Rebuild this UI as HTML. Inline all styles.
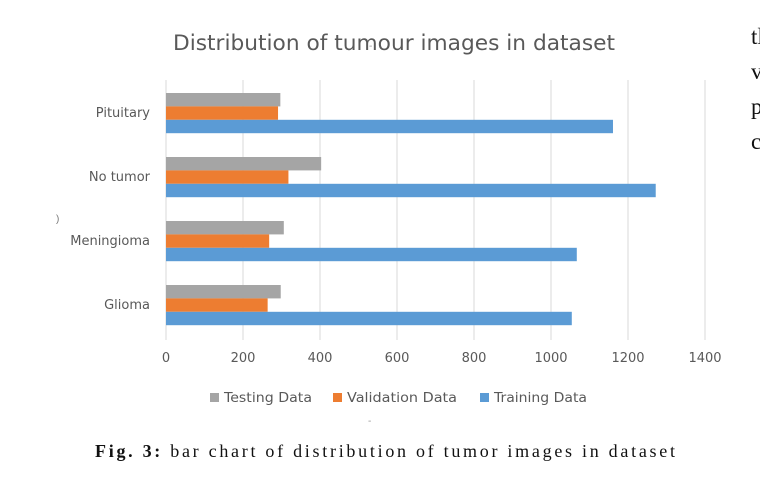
<!DOCTYPE html>
<html><head><meta charset="utf-8"><style>
body{margin:0;background:#fff;width:760px;height:494px;overflow:hidden;position:relative;font-family:"Liberation Sans","DejaVu Sans",sans-serif}
</style></head><body>
<svg width="760" height="494" style="position:absolute;left:0;top:0" id="svg">
<text x="394" y="50" text-anchor="middle" font-size="21" textLength="442" lengthAdjust="spacingAndGlyphs" fill="#595959" font-family="DejaVu Sans, sans-serif">Distribution of tumour images in dataset</text>
<text x="369" y="49" font-size="10" fill="#999">-</text>
<text x="56" y="222" font-size="10" fill="#777">)</text>
<text x="368" y="424" font-size="10" fill="#999">-</text>
<g id="grid"></g><g id="bars"></g><g id="labels"></g>
<g id="legend"></g>
<text x="95" y="457" font-size="18" textLength="580" lengthAdjust="spacing" font-family="Liberation Serif, serif" fill="#111"><tspan font-weight="bold">Fig. 3:</tspan> bar chart of distribution of tumor images in dataset</text>
<g font-family="Liberation Serif, serif" font-size="23" fill="#111">
<text x="751" y="44">tl</text>
<text x="751" y="79">v</text>
<text x="751" y="114">p</text>
<text x="751" y="149">c</text>
</g>
</svg>
<script>
const categories=["Pituitary","No tumor","Meningioma","Glioma"];
const testing=[297,403,306,298];
const validation=[291,318,268,264];
const training=[1161,1272,1067,1054];
const ticks=[0,200,400,600,800,1000,1200,1400];
const series=[["Testing Data",testing,"#a5a5a5"],["Validation Data",validation,"#ed7d31"],["Training Data",training,"#5b9bd5"]];
const NS="http://www.w3.org/2000/svg";
const x0=166,sc=539/1400;const X=v=>x0+v*sc;
function mk(t,a,p){const e=document.createElementNS(NS,t);for(const k in a)e.setAttribute(k,a[k]);document.getElementById(p).appendChild(e);return e;}
ticks.forEach(t=>{
 const l=mk('line',{x1:X(t),x2:X(t),y1:80,y2:340,stroke:'#d9d9d9','stroke-width':1},'grid');
 
 
 const tx=mk('text',{x:X(t),y:362,'text-anchor':'middle','font-size':13,fill:'#595959','font-family':'DejaVu Sans, sans-serif'},'labels');
 tx.textContent=t;
 
 
});
categories.forEach((c,i)=>{
 const top=93+64*i;
 series.forEach((s,j)=>{
  const r=mk('rect',{x:x0,y:top+j*13.4,width:X(s[1][i])-x0,height:13.4,fill:s[2]},'bars');
  
  
 });
 const tx=mk('text',{x:150,y:top+24,'text-anchor':'end','font-size':13,fill:'#595959','font-family':'DejaVu Sans, sans-serif'},'labels');
 tx.textContent=c;
 
 
});
const lx=[210,333,480];
const lw=[88,110,93];
series.forEach((s,j)=>{
 const r=mk('rect',{x:lx[j],y:393,width:9,height:9,fill:s[2]},'legend');
 
 
 const tx=mk('text',{x:lx[j]+14,y:402,'font-size':13,textLength:lw[j],lengthAdjust:'spacingAndGlyphs',fill:'#595959','font-family':'DejaVu Sans, sans-serif'},'legend');
 tx.textContent=s[0];
 
 
});
</script>
</body></html>
